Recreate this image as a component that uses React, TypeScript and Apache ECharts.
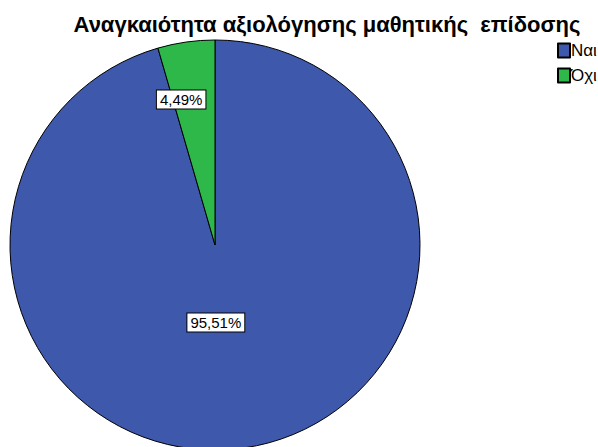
import React, { useEffect, useRef } from "react";
import * as echarts from "echarts";

const categories = ["Ναι", "Όχι"];
const values = [95.51, 4.49];
const colors = ["#3e58ac", "#2eb84a"];
const titleText = "Αναγκαιότητα αξιολόγησης μαθητικής  επίδοσης";

export default function App() {
  const ref = useRef<HTMLDivElement>(null);
  useEffect(() => {
    if (!ref.current) return;
    const chart = echarts.init(ref.current, undefined, { renderer: "svg" });
    const labelShift = [
      { dx: -14, dy: -27 },
      { dx: -19, dy: -41 },
    ];
    chart.setOption({
      animation: false,
      backgroundColor: "#ffffff",
      title: {
        text: titleText,
        left: 322,
        textAlign: "center",
        top: 8,
        textStyle: {
          fontFamily: "Liberation Sans, Arial, sans-serif",
          fontWeight: "bold",
          fontSize: 22,
          color: "#000",
        },
      },
      legend: {
        orient: "vertical",
        left: 552,
        top: 37,
        itemWidth: 12,
        itemHeight: 14,
        itemGap: 8,
        icon: "rect",
        selectedMode: false,
        data: categories,
        textStyle: {
          fontFamily: "Liberation Sans, Arial, sans-serif",
          fontSize: 17,
          color: "#000",
          padding: [0, 0, 0, -4],
        },
      },
      series: [
        {
          type: "pie",
          center: [215, 245],
          radius: 205,
          startAngle: 90,
          clockwise: true,
          data: categories.map((c, i) => ({
            name: c,
            value: values[i],
            itemStyle: { color: colors[i] },
          })),
          itemStyle: { borderColor: "#000", borderWidth: 1 },
          label: {
            show: true,
            position: "inside",
            formatter: (p: any) => p.value.toFixed(2).replace(".", ",") + "%",
            fontFamily: "Liberation Sans, Arial, sans-serif",
            fontSize: 15,
            color: "#000",
            backgroundColor: "#fff",
            borderColor: "#000",
            borderWidth: 1,
            padding: [2, 3, 1, 3],
          },
          labelLayout: (p: any) => labelShift[p.dataIndex],
          labelLine: { show: false },
          emphasis: { disabled: true },
        },
      ],
    });
    return () => chart.dispose();
  }, []);
  return (
    <div
      ref={ref}
      style={{ position: "fixed", left: 0, top: 0, width: 598, height: 447 }}
    />
  );
}
